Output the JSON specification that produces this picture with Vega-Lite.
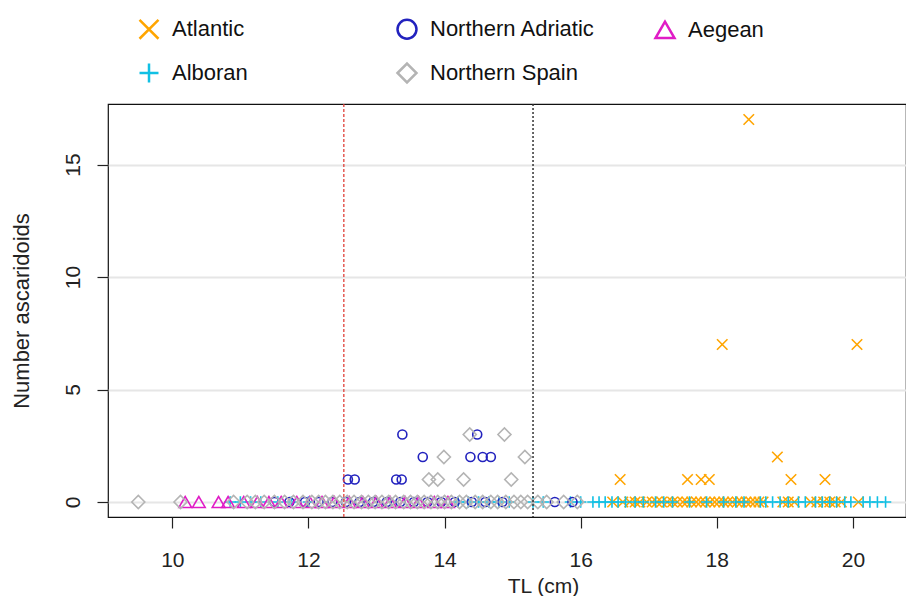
{
  "$schema": "https://vega.github.io/schema/vega-lite/v6.json",
  "width": 798,
  "height": 413,
  "autosize": "none",
  "padding": {"left": 108, "top": 104, "right": 0, "bottom": 79},
  "background": "white",
  "config": {
    "view": {"stroke": "#111", "strokeWidth": 1.2},
    "font": "Liberation Sans",
    "axis": {
      "domain": false,
      "tickColor": "#222",
      "tickSize": 11,
      "tickWidth": 1.2,
      "labelFont": "Liberation Sans",
      "labelFontSize": 21,
      "labelColor": "#222",
      "titleFont": "Liberation Sans",
      "titleFontSize": 22,
      "titleFontWeight": "normal",
      "titleColor": "#222"
    },
    "legend": {
      "labelFont": "Liberation Sans",
      "labelFontSize": 22,
      "labelColor": "#111"
    }
  },
  "datasets": {
    "pts": [
      {"region": "Atlantic", "tl": 18.47, "n": 17},
      {"region": "Atlantic", "tl": 18.08, "n": 7},
      {"region": "Atlantic", "tl": 20.06, "n": 7},
      {"region": "Atlantic", "tl": 18.89, "n": 2},
      {"region": "Atlantic", "tl": 16.58, "n": 1},
      {"region": "Atlantic", "tl": 17.57, "n": 1},
      {"region": "Atlantic", "tl": 17.77, "n": 1},
      {"region": "Atlantic", "tl": 17.89, "n": 1},
      {"region": "Atlantic", "tl": 19.09, "n": 1},
      {"region": "Atlantic", "tl": 19.59, "n": 1},
      {"region": "Alboran", "tl": 10.85, "n": 0},
      {"region": "Alboran", "tl": 11.0, "n": 0},
      {"region": "Alboran", "tl": 11.15, "n": 0},
      {"region": "Alboran", "tl": 11.3, "n": 0},
      {"region": "Alboran", "tl": 11.55, "n": 0},
      {"region": "Alboran", "tl": 11.75, "n": 0},
      {"region": "Alboran", "tl": 12.0, "n": 0},
      {"region": "Alboran", "tl": 14.2, "n": 0},
      {"region": "Alboran", "tl": 14.35, "n": 0},
      {"region": "Alboran", "tl": 14.5, "n": 0},
      {"region": "Alboran", "tl": 14.65, "n": 0},
      {"region": "Alboran", "tl": 14.8, "n": 0},
      {"region": "Alboran", "tl": 14.95, "n": 0},
      {"region": "Alboran", "tl": 15.3, "n": 0},
      {"region": "Alboran", "tl": 15.45, "n": 0},
      {"region": "Alboran", "tl": 15.85, "n": 0},
      {"region": "Alboran", "tl": 16.0, "n": 0},
      {"region": "Alboran", "tl": 16.18, "n": 0},
      {"region": "Alboran", "tl": 16.27, "n": 0},
      {"region": "Alboran", "tl": 16.36, "n": 0},
      {"region": "Alboran", "tl": 16.46, "n": 0},
      {"region": "Alboran", "tl": 16.55, "n": 0},
      {"region": "Alboran", "tl": 16.66, "n": 0},
      {"region": "Alboran", "tl": 16.8, "n": 0},
      {"region": "Alboran", "tl": 16.92, "n": 0},
      {"region": "Alboran", "tl": 17.1, "n": 0},
      {"region": "Alboran", "tl": 17.22, "n": 0},
      {"region": "Alboran", "tl": 17.35, "n": 0},
      {"region": "Alboran", "tl": 17.6, "n": 0},
      {"region": "Alboran", "tl": 17.85, "n": 0},
      {"region": "Alboran", "tl": 18.1, "n": 0},
      {"region": "Alboran", "tl": 18.28, "n": 0},
      {"region": "Alboran", "tl": 18.4, "n": 0},
      {"region": "Alboran", "tl": 18.64, "n": 0},
      {"region": "Alboran", "tl": 18.72, "n": 0},
      {"region": "Alboran", "tl": 18.82, "n": 0},
      {"region": "Alboran", "tl": 18.93, "n": 0},
      {"region": "Alboran", "tl": 19.05, "n": 0},
      {"region": "Alboran", "tl": 19.2, "n": 0},
      {"region": "Alboran", "tl": 19.3, "n": 0},
      {"region": "Alboran", "tl": 19.45, "n": 0},
      {"region": "Alboran", "tl": 19.55, "n": 0},
      {"region": "Alboran", "tl": 19.66, "n": 0},
      {"region": "Alboran", "tl": 19.76, "n": 0},
      {"region": "Alboran", "tl": 19.88, "n": 0},
      {"region": "Alboran", "tl": 19.97, "n": 0},
      {"region": "Alboran", "tl": 20.15, "n": 0},
      {"region": "Alboran", "tl": 20.25, "n": 0},
      {"region": "Alboran", "tl": 20.36, "n": 0},
      {"region": "Alboran", "tl": 20.48, "n": 0},
      {"region": "Atlantic", "tl": 16.47, "n": 0},
      {"region": "Atlantic", "tl": 16.62, "n": 0},
      {"region": "Atlantic", "tl": 16.72, "n": 0},
      {"region": "Atlantic", "tl": 16.8, "n": 0},
      {"region": "Atlantic", "tl": 16.87, "n": 0},
      {"region": "Atlantic", "tl": 16.97, "n": 0},
      {"region": "Atlantic", "tl": 17.05, "n": 0},
      {"region": "Atlantic", "tl": 17.12, "n": 0},
      {"region": "Atlantic", "tl": 17.19, "n": 0},
      {"region": "Atlantic", "tl": 17.27, "n": 0},
      {"region": "Atlantic", "tl": 17.35, "n": 0},
      {"region": "Atlantic", "tl": 17.42, "n": 0},
      {"region": "Atlantic", "tl": 17.5, "n": 0},
      {"region": "Atlantic", "tl": 17.56, "n": 0},
      {"region": "Atlantic", "tl": 17.63, "n": 0},
      {"region": "Atlantic", "tl": 17.7, "n": 0},
      {"region": "Atlantic", "tl": 17.76, "n": 0},
      {"region": "Atlantic", "tl": 17.83, "n": 0},
      {"region": "Atlantic", "tl": 17.9, "n": 0},
      {"region": "Atlantic", "tl": 17.97, "n": 0},
      {"region": "Atlantic", "tl": 18.03, "n": 0},
      {"region": "Atlantic", "tl": 18.1, "n": 0},
      {"region": "Atlantic", "tl": 18.16, "n": 0},
      {"region": "Atlantic", "tl": 18.23, "n": 0},
      {"region": "Atlantic", "tl": 18.3, "n": 0},
      {"region": "Atlantic", "tl": 18.36, "n": 0},
      {"region": "Atlantic", "tl": 18.43, "n": 0},
      {"region": "Atlantic", "tl": 18.5, "n": 0},
      {"region": "Atlantic", "tl": 18.56, "n": 0},
      {"region": "Atlantic", "tl": 18.62, "n": 0},
      {"region": "Atlantic", "tl": 18.68, "n": 0},
      {"region": "Atlantic", "tl": 18.97, "n": 0},
      {"region": "Atlantic", "tl": 19.05, "n": 0},
      {"region": "Atlantic", "tl": 19.14, "n": 0},
      {"region": "Atlantic", "tl": 19.38, "n": 0},
      {"region": "Atlantic", "tl": 19.47, "n": 0},
      {"region": "Atlantic", "tl": 19.57, "n": 0},
      {"region": "Atlantic", "tl": 19.66, "n": 0},
      {"region": "Atlantic", "tl": 19.74, "n": 0},
      {"region": "Atlantic", "tl": 19.83, "n": 0},
      {"region": "Atlantic", "tl": 20.08, "n": 0},
      {"region": "Northern Adriatic", "tl": 12.58, "n": 1},
      {"region": "Northern Adriatic", "tl": 12.68, "n": 1},
      {"region": "Northern Adriatic", "tl": 13.29, "n": 1},
      {"region": "Northern Adriatic", "tl": 13.37, "n": 1},
      {"region": "Northern Adriatic", "tl": 13.38, "n": 3},
      {"region": "Northern Adriatic", "tl": 13.68, "n": 2},
      {"region": "Northern Adriatic", "tl": 14.38, "n": 2},
      {"region": "Northern Adriatic", "tl": 14.48, "n": 3},
      {"region": "Northern Adriatic", "tl": 14.56, "n": 2},
      {"region": "Northern Adriatic", "tl": 14.68, "n": 2},
      {"region": "Northern Adriatic", "tl": 11.5, "n": 0},
      {"region": "Northern Adriatic", "tl": 11.72, "n": 0},
      {"region": "Northern Adriatic", "tl": 11.95, "n": 0},
      {"region": "Northern Adriatic", "tl": 12.15, "n": 0},
      {"region": "Northern Adriatic", "tl": 12.35, "n": 0},
      {"region": "Northern Adriatic", "tl": 12.55, "n": 0},
      {"region": "Northern Adriatic", "tl": 12.75, "n": 0},
      {"region": "Northern Adriatic", "tl": 12.95, "n": 0},
      {"region": "Northern Adriatic", "tl": 13.15, "n": 0},
      {"region": "Northern Adriatic", "tl": 13.35, "n": 0},
      {"region": "Northern Adriatic", "tl": 13.55, "n": 0},
      {"region": "Northern Adriatic", "tl": 13.75, "n": 0},
      {"region": "Northern Adriatic", "tl": 13.95, "n": 0},
      {"region": "Northern Adriatic", "tl": 14.15, "n": 0},
      {"region": "Northern Adriatic", "tl": 14.4, "n": 0},
      {"region": "Northern Adriatic", "tl": 14.6, "n": 0},
      {"region": "Northern Adriatic", "tl": 14.85, "n": 0},
      {"region": "Northern Adriatic", "tl": 15.62, "n": 0},
      {"region": "Northern Adriatic", "tl": 15.88, "n": 0},
      {"region": "Aegean", "tl": 10.19, "n": 0},
      {"region": "Aegean", "tl": 10.39, "n": 0},
      {"region": "Aegean", "tl": 10.68, "n": 0},
      {"region": "Aegean", "tl": 10.82, "n": 0},
      {"region": "Aegean", "tl": 11.05, "n": 0},
      {"region": "Aegean", "tl": 11.25, "n": 0},
      {"region": "Aegean", "tl": 11.42, "n": 0},
      {"region": "Aegean", "tl": 11.6, "n": 0},
      {"region": "Aegean", "tl": 11.83, "n": 0},
      {"region": "Aegean", "tl": 12.02, "n": 0},
      {"region": "Aegean", "tl": 12.2, "n": 0},
      {"region": "Aegean", "tl": 12.38, "n": 0},
      {"region": "Aegean", "tl": 12.6, "n": 0},
      {"region": "Aegean", "tl": 12.8, "n": 0},
      {"region": "Aegean", "tl": 13.0, "n": 0},
      {"region": "Aegean", "tl": 13.2, "n": 0},
      {"region": "Aegean", "tl": 13.42, "n": 0},
      {"region": "Aegean", "tl": 13.62, "n": 0},
      {"region": "Aegean", "tl": 13.85, "n": 0},
      {"region": "Aegean", "tl": 14.05, "n": 0},
      {"region": "Northern Spain", "tl": 14.37, "n": 3},
      {"region": "Northern Spain", "tl": 14.88, "n": 3},
      {"region": "Northern Spain", "tl": 13.99, "n": 2},
      {"region": "Northern Spain", "tl": 15.18, "n": 2},
      {"region": "Northern Spain", "tl": 13.77, "n": 1},
      {"region": "Northern Spain", "tl": 13.9, "n": 1},
      {"region": "Northern Spain", "tl": 14.28, "n": 1},
      {"region": "Northern Spain", "tl": 14.98, "n": 1},
      {"region": "Northern Spain", "tl": 9.5, "n": 0},
      {"region": "Northern Spain", "tl": 10.12, "n": 0},
      {"region": "Northern Spain", "tl": 10.9, "n": 0},
      {"region": "Northern Spain", "tl": 11.1, "n": 0},
      {"region": "Northern Spain", "tl": 11.22, "n": 0},
      {"region": "Northern Spain", "tl": 11.35, "n": 0},
      {"region": "Northern Spain", "tl": 11.5, "n": 0},
      {"region": "Northern Spain", "tl": 11.65, "n": 0},
      {"region": "Northern Spain", "tl": 11.78, "n": 0},
      {"region": "Northern Spain", "tl": 11.92, "n": 0},
      {"region": "Northern Spain", "tl": 12.05, "n": 0},
      {"region": "Northern Spain", "tl": 12.15, "n": 0},
      {"region": "Northern Spain", "tl": 12.25, "n": 0},
      {"region": "Northern Spain", "tl": 12.36, "n": 0},
      {"region": "Northern Spain", "tl": 12.46, "n": 0},
      {"region": "Northern Spain", "tl": 12.57, "n": 0},
      {"region": "Northern Spain", "tl": 12.67, "n": 0},
      {"region": "Northern Spain", "tl": 12.78, "n": 0},
      {"region": "Northern Spain", "tl": 12.88, "n": 0},
      {"region": "Northern Spain", "tl": 12.98, "n": 0},
      {"region": "Northern Spain", "tl": 13.08, "n": 0},
      {"region": "Northern Spain", "tl": 13.18, "n": 0},
      {"region": "Northern Spain", "tl": 13.28, "n": 0},
      {"region": "Northern Spain", "tl": 13.4, "n": 0},
      {"region": "Northern Spain", "tl": 13.5, "n": 0},
      {"region": "Northern Spain", "tl": 13.6, "n": 0},
      {"region": "Northern Spain", "tl": 13.7, "n": 0},
      {"region": "Northern Spain", "tl": 13.8, "n": 0},
      {"region": "Northern Spain", "tl": 13.9, "n": 0},
      {"region": "Northern Spain", "tl": 14.0, "n": 0},
      {"region": "Northern Spain", "tl": 14.1, "n": 0},
      {"region": "Northern Spain", "tl": 14.22, "n": 0},
      {"region": "Northern Spain", "tl": 14.32, "n": 0},
      {"region": "Northern Spain", "tl": 14.45, "n": 0},
      {"region": "Northern Spain", "tl": 14.56, "n": 0},
      {"region": "Northern Spain", "tl": 14.68, "n": 0},
      {"region": "Northern Spain", "tl": 14.78, "n": 0},
      {"region": "Northern Spain", "tl": 14.9, "n": 0},
      {"region": "Northern Spain", "tl": 15.02, "n": 0},
      {"region": "Northern Spain", "tl": 15.12, "n": 0},
      {"region": "Northern Spain", "tl": 15.22, "n": 0},
      {"region": "Northern Spain", "tl": 15.37, "n": 0},
      {"region": "Northern Spain", "tl": 15.5, "n": 0},
      {"region": "Northern Spain", "tl": 15.75, "n": 0},
      {"region": "Northern Spain", "tl": 15.95, "n": 0}
    ]
  },
  "layer": [
    {
      "data": {"name": "pts"},
      "encoding": {
        "x": {
          "field": "tl", "type": "quantitative",
          "scale": {"domain": [9.055, 20.78], "nice": false, "zero": false},
          "axis": {"values": [10, 12, 14, 16, 18, 20], "format": "d", "grid": false, "labelPadding": 21, "title": "TL (cm)", "titleFontSize": 21, "titlePadding": 5, "titleX": 435}
        },
        "y": {
          "field": "n", "type": "quantitative",
          "scale": {"domain": [-0.667, 17.69], "nice": false, "zero": false},
          "axis": {"values": [0, 5, 10, 15], "grid": true, "gridColor": "#e6e6e6", "gridWidth": 2, "labelAngle": -90, "labelAlign": "center", "labelBaseline": "bottom", "labelPadding": 14, "title": "Number ascaridoids", "titlePadding": 29}
        },
        "color": {
          "field": "region", "type": "nominal",
          "scale": {
            "domain": ["Atlantic", "Northern Adriatic", "Aegean", "Alboran", "Northern Spain"],
            "range": ["#FFA500", "#2222BE", "#E01CC6", "#10C0E4", "#B4B4B4"]
          },
          "legend": {
            "title": null,
            "orient": "none",
            "legendX": 30,
            "legendY": -86,
            "direction": "horizontal",
            "columns": 3,
            "gridAlign": "all",
            "columnPadding": 54,
            "rowPadding": 14,
            "symbolSize": 360,
            "symbolStrokeWidth": 2.5,
            "labelOffset": 12,
            "labelLimit": 300,
            "labelFontSize": 22
          }
        },
        "shape": {
          "field": "region", "type": "nominal",
          "scale": {
            "domain": ["Atlantic", "Northern Adriatic", "Aegean", "Alboran", "Northern Spain"],
            "range": ["M-1,-1L1,1M-1,1L1,-1", "circle", "triangle-up", "M-1,0L1,0M0,-1L0,1", "diamond"]
          }
        }
      },
      "layer": [
        {
          "transform": [{"filter": "datum.region === 'Atlantic'"}],
          "mark": {"type": "point", "filled": false, "opacity": 1, "strokeWidth": 1.6, "size": 110, "clip": true}
        },
        {
          "transform": [{"filter": "datum.region === 'Alboran'"}],
          "mark": {"type": "point", "filled": false, "opacity": 1, "strokeWidth": 1.6, "size": 130, "clip": true}
        },
        {
          "transform": [{"filter": "datum.region === 'Northern Adriatic'"}],
          "mark": {"type": "point", "filled": false, "opacity": 1, "strokeWidth": 1.6, "size": 81, "clip": true}
        },
        {
          "transform": [{"filter": "datum.region === 'Aegean'"}],
          "mark": {"type": "point", "filled": false, "opacity": 1, "strokeWidth": 1.6, "size": 160, "clip": true}
        },
        {
          "transform": [{"filter": "datum.region === 'Northern Spain'"}],
          "mark": {"type": "point", "filled": false, "opacity": 1, "strokeWidth": 1.6, "size": 170, "clip": true}
        }
      ]
    },
    {
      "data": {"values": [{"tl": 12.52}]},
      "mark": {"type": "rule", "color": "#E0403A", "strokeDash": [3, 2], "strokeWidth": 1.3},
      "encoding": {"x": {"field": "tl", "type": "quantitative"}}
    },
    {
      "data": {"values": [{"tl": 15.3}]},
      "mark": {"type": "rule", "color": "#333333", "strokeDash": [2, 2], "strokeWidth": 1.5},
      "encoding": {"x": {"field": "tl", "type": "quantitative"}}
    }
  ]
}
